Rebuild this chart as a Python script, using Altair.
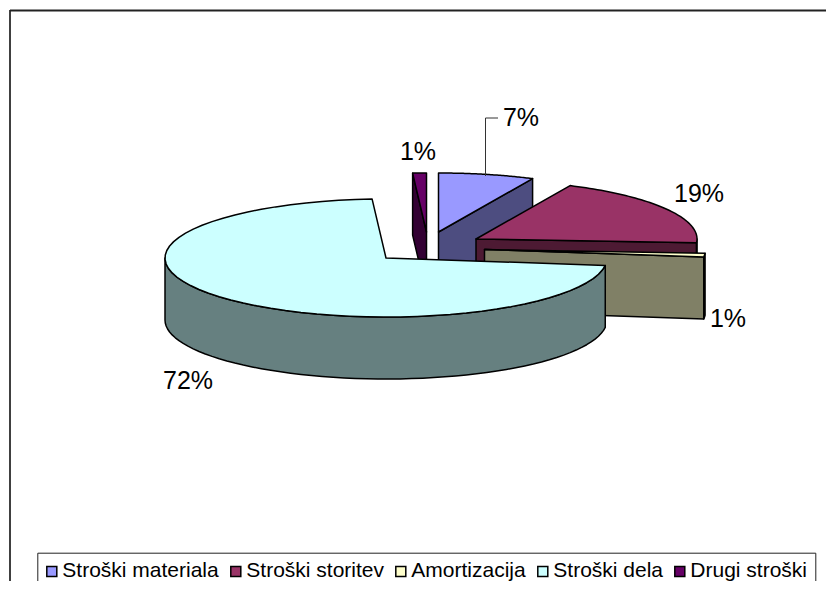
import numpy as np
import altair as alt

categories = ["Stroški materiala", "Stroški storitev", "Amortizacija", "Stroški dela", "Drugi stroški"]
shares = [7, 19, 1, 72, 1]
top_colors = ["#9999FF", "#993366", "#FFFFCC", "#CCFFFF", "#660066"]
side_colors = ["#4D4D80", "#4D1A33", "#808066", "#668080", "#330033"]
rim_colors = ["#4D4D80", "#4D1A33", "#A0A080", "#668080", "#330033"]

# geometry of the tilted, exploded pie
RX, RY, DEPTH = 221.0, 59.0, 62.0
apex_points = [(438.5, 232), (476, 239), (484.5, 249.5), (386, 258), (426.5, 232)]
label_texts = [f"{s}%" for s in shares]
label_points = [(521, 118), (699, 194), (728, 319), (188, 381), (418, 152)]


def rim(ax, ay, a, b, n=60):
    t = np.radians(np.linspace(a, b, n))
    return [[float(ax + RX * np.sin(v)), float(ay - RY * np.cos(v))] for v in t]


def feature(part, ring):
    return {"type": "Feature", "properties": {"part": part},
            "geometry": {"type": "Polygon", "coordinates": [ring + [ring[0]]]}}


edges = np.concatenate([[0], np.cumsum(shares)]) * 3.6
slices = {}
for i, name in enumerate(categories):
    ax, ay = apex_points[i]
    a, b = float(edges[i]), float(edges[i + 1])
    arc = rim(ax, ay, a, b)
    faces = []
    # cut face at the start angle (visible on the left half only)
    if np.sin(np.radians(a)) < 0 and np.cos(np.radians(a)) > 0:
        p = arc[0]
        faces.append(feature(name + " cut", [[ax, ay], p, [p[0], p[1] + DEPTH], [ax, ay + DEPTH]]))
    # cut face at the end angle (visible on the right half only)
    if np.sin(np.radians(b)) > 0 and np.cos(np.radians(b)) > -0.5 and i != 3:
        p = arc[-1]
        faces.append(feature(name + " cut", [[ax, ay], p, [p[0], p[1] + DEPTH], [ax, ay + DEPTH]]))
    # outer wall where the rim faces the viewer
    lo, hi = max(a, 90.0), min(b, 270.0)
    if lo < hi:
        wall = rim(ax, ay, lo, hi)
        faces.append(feature(name + " rim", wall + [[x, y + DEPTH] for x, y in reversed(wall)]))
    faces.append(feature(name, [[ax, ay]] + arc))
    slices[name] = faces

draw_order = ["Drugi stroški", "Stroški materiala", "Stroški storitev", "Amortizacija", "Stroški dela"]
features = [f for n in draw_order for f in slices[n]]

domain, colours = [], []
for n, t, s, r in zip(categories, top_colors, side_colors, rim_colors):
    domain += [n, n + " cut", n + " rim"]
    colours += [t, s, r]

OX, OY = 8, 8

pie = alt.Chart(alt.Data(values=features)).mark_geoshape(
    stroke="black", strokeWidth=1.5, strokeJoin="round"
).encode(
    color=alt.Color(
        "properties.part:N",
        scale=alt.Scale(domain=domain, range=colours),
        sort=None,
        title=None,
        legend=alt.Legend(
            values=categories, orient="none", legendX=29.3, legendY=544.7,
            direction="horizontal", columns=5, symbolType="square", symbolSize=100,
            symbolOffset=-4, symbolStrokeColor="black", symbolStrokeWidth=1.5,
            labelFont="Liberation Sans", labelFontSize=21, labelColor="black",
            fillColor="white", strokeColor="#222222", padding=8, columnPadding=8,
            labelOffset=0,
        ),
    )
).project(type="identity", scale=1, translate=[-OX, -OY])

layers = [pie]

# chart frame and the 7% leader line
rule_spec = [
    (10, 10, 10, 589, 1.5, "black"),
    (10, 834, 10.5, 10.5, 2, "#222222"),
    (485.5, 485.5, 118, 176, 1, "#333333"),
    (485.5, 498, 118, 118, 1, "#333333"),
]
for x1, x2, y1, y2, w, c in rule_spec:
    layers.append(alt.Chart(alt.Data(values=[{"k": 0}])).mark_rule(strokeWidth=w, color=c).encode(
        x=alt.value(x1 - OX), x2=alt.value(x2 - OX), y=alt.value(y1 - OY), y2=alt.value(y2 - OY)))

for txt, (x, y) in zip(label_texts, label_points):
    layers.append(alt.Chart(alt.Data(values=[{"label": txt}])).mark_text(
        font="Liberation Sans", fontSize=25, color="black", align="center", baseline="middle"
    ).encode(x=alt.value(x - OX), y=alt.value(y - OY), text="label:N"))

chart = alt.layer(*layers).properties(
    width=818, height=573,
    padding=0,
    autosize=alt.AutoSizeParams(type="none"),
    background="white",
).configure_view(stroke=None)

chart.save("out.html", embed_options={"renderer": "svg", "actions": False})
